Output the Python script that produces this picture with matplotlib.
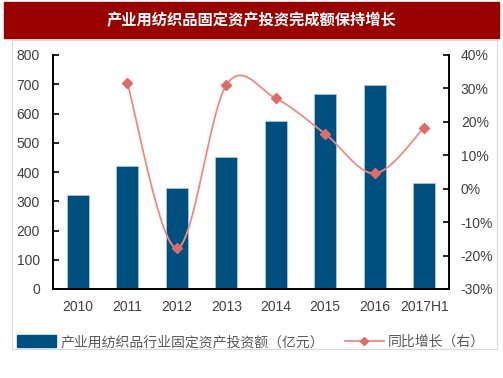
import numpy as np
import matplotlib
matplotlib.use("Agg")
import matplotlib.pyplot as plt
from matplotlib.patches import Rectangle
from matplotlib.lines import Line2D

plt.rcParams['font.family'] = ['Liberation Sans', 'Noto Sans CJK SC', 'DejaVu Sans']

# ---------------------------------------------------------------------------
# Data
# ---------------------------------------------------------------------------
years = ["2010", "2011", "2012", "2013", "2014", "2015", "2016", "2017H1"]
invest = [321, 420, 346, 452, 574, 667, 697, 361]          # 亿元
growth_years = ["2011", "2012", "2013", "2014", "2015", "2016", "2017H1"]
growth = [31.7, -17.8, 31.0, 27.0, 16.4, 4.6, 18.3]        # %

title = "产业用纺织品固定资产投资完成额保持增长"
bar_label = "产业用纺织品行业固定资产投资额（亿元）"
line_label = "同比增长（右）"

BAR_COLOR = "#00507F"
LINE_COLOR = "#EE8A86"
MARK_COLOR = "#E06A66"
TEXT_COLOR = "#404040"


def smooth(xs, ys, n=30):
    """Catmull-Rom style smoothing (like Excel's smoothed line)."""
    p = np.column_stack([xs, ys]).astype(float)
    p = np.vstack([p[0], p, p[-1]])
    out = []
    t = np.linspace(0, 1, n)
    for i in range(1, len(p) - 2):
        p0, p1, p2, p3 = p[i - 1], p[i], p[i + 1], p[i + 2]
        c1 = p1 + (p2 - p0) / 6
        c2 = p2 - (p3 - p1) / 6
        seg = ((1 - t) ** 3)[:, None] * p1 + (3 * (1 - t) ** 2 * t)[:, None] * c1 \
            + (3 * (1 - t) * t ** 2)[:, None] * c2 + (t ** 3)[:, None] * p2
        out.append(seg)
    seg = np.vstack(out)
    return seg[:, 0], seg[:, 1]


W, H = 503, 378
fig = plt.figure(figsize=(W / 100, H / 100), dpi=100)

# title banner
fig.patches.append(Rectangle((4 / W, 1 - 38 / H), 495 / W, 36 / H,
                             transform=fig.transFigure, color="#990000", zorder=0))
fig.text(251 / W, 1 - 20 / H, title, color="white", fontsize=11, fontweight="bold",
         ha="center", va="center", family=['Noto Sans CJK SC'])

# light frame around chart area
fig.patches.append(Rectangle((12 / W, 1 - 349 / H), 485 / W, 309 / H,
                             transform=fig.transFigure, fill=False,
                             edgecolor="#D9D9D9", linewidth=0.8, zorder=0))

ax = fig.add_axes([53 / W, 89 / H, 396 / W, 234 / H])
x = np.arange(len(years))
ax.bar(x, invest, width=0.44, color=BAR_COLOR, edgecolor="#A9C6E0", linewidth=0.6, zorder=2)
ax.set_xlim(-0.5, len(years) - 0.5)
ax.set_ylim(0, 800)
ax.set_yticks(np.arange(0, 801, 100))
ax.set_xticks(x)
ax.set_xticklabels(years)

ax2 = ax.twinx()
gx = [years.index(g) for g in growth_years]
sx, sy = smooth(gx, growth)
ax2.plot(sx, sy, color=LINE_COLOR, linewidth=1.3, zorder=3)
ax2.plot(gx, growth, linestyle="none", marker="D", markersize=5, color=MARK_COLOR, zorder=4)
ax2.set_ylim(-30, 40)
ax2.set_yticks(np.arange(-30, 41, 10))
ax2.set_yticklabels([f"{v}%" for v in range(-30, 41, 10)])

for a in (ax, ax2):
    a.spines["top"].set_visible(False)
    for s in ("left", "right", "bottom"):
        a.spines[s].set_linewidth(1.2)
        a.spines[s].set_color("black")
    a.tick_params(labelsize=10, colors=TEXT_COLOR, length=4, width=1.2, direction="in")
    a.tick_params(axis="y", color="black")
ax.tick_params(axis="x", length=0, pad=8)
ax.tick_params(axis="y", pad=9.5)
ax2.tick_params(axis="y", pad=8.5)

handles = [Rectangle((0, 0), 1, 1, color=BAR_COLOR),
           Line2D([], [], color=LINE_COLOR, marker="D", markersize=4,
                  markerfacecolor=MARK_COLOR, markeredgecolor=MARK_COLOR, linewidth=1.3)]
leg = fig.legend(handles, [bar_label, line_label], loc="center",
                 bbox_to_anchor=(251 / W, 1 - 342 / H), ncol=2, frameon=False,
                 prop={"family": ['Noto Sans CJK SC'], "size": 10},
                 handlelength=2.8, handleheight=0.9, handletextpad=0.3, columnspacing=1.5)
for t in leg.get_texts():
    t.set_color("#595959")

fig.savefig("out.png", dpi=100)
